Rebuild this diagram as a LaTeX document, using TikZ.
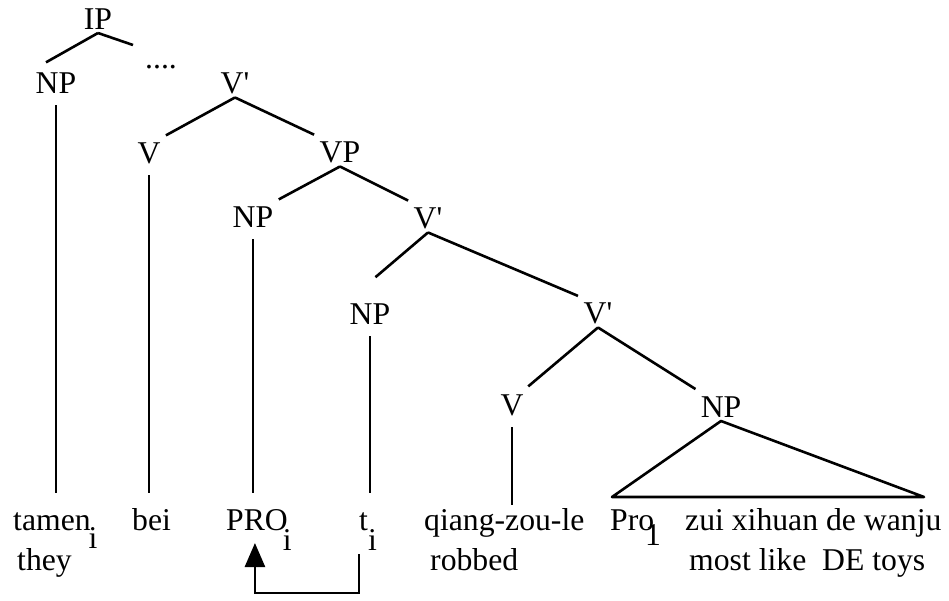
\documentclass[tikz,border=0pt]{standalone}
\usepackage{fontspec}
\setmainfont{Liberation Serif}
\usetikzlibrary{arrows.meta}
\newcommand{\vbr}{V\textquotesingle}

\begin{document}
\begin{tikzpicture}[x=1pt,y=-1pt,font=\fontsize{31.7}{38}\selectfont,
    cat/.style={anchor=base,inner sep=0pt,outer ysep=4pt},
    word/.style={anchor=base west,inner sep=0pt,outer ysep=4pt,text height=21pt},
    branch/.style={line width=2.6pt,shorten >=6pt},
    stem/.style={line width=2.6pt,shorten <=8pt,shorten >=12pt},
    movement/.style={line width=2.6pt,-{Triangle[length=24pt,width=20pt]}}]
    \useasboundingbox (0,0) rectangle (949,600);
    % tree labels
    \node[cat] (ip) at (98,29) {IP};
    \node[cat] (np1) at (56,93) {NP};
    \node[cat] (dots) at (161,68) {....};
    \node[cat] (vbar1) at (235,93) {\vbr};
    \node[cat] (v1) at (149,163) {V};
    \node[cat] (vp) at (340,162) {VP};
    \node[cat] (np2) at (253,227) {NP};
    \node[cat] (vbar2) at (428,228) {\vbr};
    \node[cat] (np3) at (370,324) {NP};
    \node[cat] (vbar3) at (598,323) {\vbr};
    \node[cat] (v2) at (512,415) {V};
    \node[cat] (np4) at (721,417) {NP};
    % words and glosses
    \node[word] (w-tamen) at (13,530) {tamen\kern-2pt\raisebox{-18pt}{i}};
    \node[word] (w-bei) at (132,530) {bei};
    \node[word] (w-pro) at (226,530) {PRO\kern-5pt\raisebox{-20pt}{i}};
    \node[word] (w-t) at (359,530) {t\raisebox{-20pt}{i}};
    \node[word] (w-qiang) at (424,530) {qiang-zou-le};
    \node[word] (w-pro1) at (610,530) {Pro\kern-9pt\raisebox{-15pt}{1}};
    \node[word] (w-zui) at (685,530) {zui xihuan de wanju};
    \node[word] (g-they) at (17,570) {they};
    \node[word] (g-robbed) at (430,570) {robbed};
    \node[word] (g-toys) at (689,570) {most like\ \ DE toys};
    \coordinate (ip-r) at (133,45);
    \coordinate (np-left) at (612,497);
    \coordinate (np-right) at (924,497);
    % branches
    \draw[branch,shorten >=12pt] (ip.south) -- (np1.north west);
    \draw[line width=2.6pt] (ip.south) -- (ip-r);
    \draw[branch] (vbar1.south) -- (v1.north east);
    \draw[branch] (vbar1.south) -- (vp.north west);
    \draw[branch] (vp.south) -- (np2.north east);
    \draw[branch] (vp.south) -- (vbar2.north west);
    \draw[branch,shorten >=34pt] (vbar2.south) -- (np3.north west);
    \draw[branch] (vbar2.south) -- (vbar3.north west);
    \draw[branch] (vbar3.south) -- (v2.north east);
    \draw[branch] (vbar3.south) -- (np4.north west);
    \draw[line width=2.6pt,line join=round] (np4.south) -- (np-left) -- (np-right) -- cycle;
    % stems down to the words
    \draw[stem] (np1.south) -- (np1.south |- w-tamen.north);
    \draw[stem] (v1.south) -- (v1.south |- w-bei.north);
    \draw[stem] (np2.south) -- (np2.south |- w-pro.north);
    \draw[stem] (np3.south) -- (np3.south |- w-t.north);
    \draw[stem,shorten >=0pt] (v2.south) -- (v2.south |- w-qiang.north);
    % movement arrow
    \draw[movement] (w-t.south west) -- ++(0,39) -| ([xshift=-4pt,yshift=11pt]w-pro.south);
\end{tikzpicture}
\end{document}
